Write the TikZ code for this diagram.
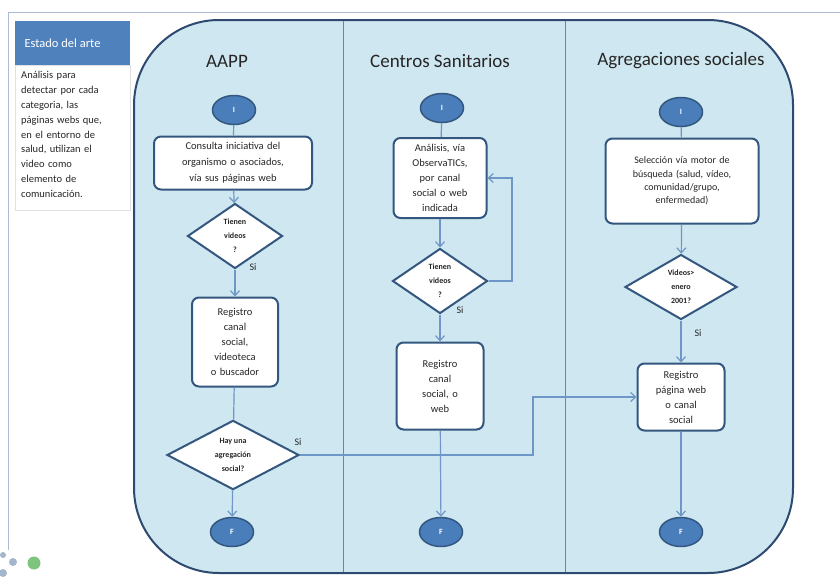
\documentclass[tikz,border=0pt]{standalone}
\usepackage{fontspec}
\setmainfont{Carlito}
\usetikzlibrary{shapes.geometric,arrows.meta}
\definecolor{laneblue}{HTML}{CFE7F0}
\definecolor{borderdk}{HTML}{2E4A70}
\definecolor{nodeborder}{HTML}{34577F}
\definecolor{ellfill}{HTML}{4A7EBB}
\definecolor{edgeblue}{HTML}{6E96C6}
\definecolor{hdrblue}{HTML}{4F81BD}
\definecolor{framegray}{HTML}{A9BCD2}
\definecolor{txt}{HTML}{262626}
\definecolor{dotgray}{HTML}{A4B6CC}
\definecolor{dotgreen}{HTML}{7DC47D}
\begin{document}
\begin{tikzpicture}[x=1pt,y=-1pt,
  procbox/.style={draw=nodeborder, line width=2pt, fill=white, rounded corners=7pt, align=center,
    text=txt, inner xsep=4pt, inner ysep=2pt, font=\fontsize{10.5}{15}\selectfont},
  decision/.style={diamond, draw=nodeborder, line width=2pt, fill=white, align=center, text=txt,
    inner sep=0pt, font=\fontsize{8}{14}\selectfont\bfseries},
  terminal/.style={ellipse, draw=nodeborder, line width=1.5pt, fill=ellfill, minimum width=43pt,
    minimum height=29pt, inner sep=0pt, text=white, font=\fontsize{8}{8}\selectfont\bfseries},
  flow/.style={draw=edgeblue, line width=1.2pt, -{Straight Barb[length=5pt,width=9pt]}},
  plainflow/.style={draw=edgeblue, line width=1.2pt},
  lanetitle/.style={text=txt, font=\fontsize{19}{22}\selectfont},
  silabel/.style={text=txt, font=\fontsize{10}{12}\selectfont}
]
\useasboundingbox (0,0) rectangle (840,576);
\fill[white] (0,0) rectangle (840,576);
% outer frame
\draw[framegray, line width=0.8pt] (8,550) -- (8,12) -- (840,12);
% decorative dots
\fill[dotgray] (3,555) circle (3);
\fill[dotgray] (13,562) circle (4);
\fill[dotgray] (3,573) circle (4);
\fill[dotgreen] (34,563) circle (6.5);
% left info panel
\node[fill=hdrblue, minimum width=115pt, minimum height=44pt, anchor=north west, inner sep=0pt] (hdr) at (15,21) {};
\node[anchor=west, text=white, font=\fontsize{12.5}{14}\selectfont] (hdrtxt) at (21,43) {Estado del arte};
\node[draw=black!12, fill=white, anchor=north west, minimum width=115pt, minimum height=145pt, inner sep=0pt] (info) at (15,65) {};
\node[anchor=north west, text width=108pt, align=left, text=txt, inner sep=0pt,
  font=\fontsize{10.5}{14.9}\selectfont] (infotxt) at (21,71)
  {Análisis para\\detectar por cada\\categoria, las\\páginas webs que,\\en el entorno de\\salud, utilizan el\\video como\\elemento de\\comunicación.};
% swimlane container
\draw[borderdk, fill=laneblue, line width=2pt, rounded corners=85pt] (134,20) rectangle (793,573);
\draw[edgeblue!90!black, line width=1pt] (343,21) -- (343,572);
\draw[edgeblue!90!black, line width=1pt] (565,21) -- (565,572);
% lane titles
\node[lanetitle] (t1) at (227,61) {AAPP};
\node[lanetitle] (t2) at (440,61) {Centros Sanitarios};
\node[lanetitle] (t3) at (681,61) {Agregaciones sociales};
% AAPP lane
\node[terminal] (ai) at (234,110) {I};
\node[procbox, text width=150pt, minimum height=53pt, font=\fontsize{10.5}{16}\selectfont] (abox) at (233,163)
  {Consulta iniciativa del\\organismo o asociados,\\vía sus páginas web};
\node[decision, minimum width=95pt, minimum height=65pt] (ad1) at (235,236) {Tienen\\videos\\?};
\node[procbox, text width=78pt, minimum height=89pt] (areg) at (235,342)
  {Registro\\canal\\social,\\videoteca\\o buscador};
\node[decision, minimum width=132pt, minimum height=65pt] (ad2) at (233,455) {Hay una\\agregación\\social?};
\node[terminal] (af) at (232,532) {F};
% Centros lane
\node[terminal] (ci) at (442,108) {I};
\node[procbox, text width=85pt, minimum height=80pt] (cbox) at (440,178)
  {Análisis, vía\\ObservaTICs,\\por canal\\social o web\\indicada};
\node[decision, minimum width=95pt, minimum height=65pt] (cd) at (440,281) {Tienen\\videos\\?};
\node[procbox, text width=79pt, minimum height=87pt] (creg) at (440,386)
  {Registro\\canal\\social, o\\web};
\node[terminal] (cf) at (441,532) {F};
% Agregaciones lane
\node[terminal] (gi) at (681,112) {I};
\node[procbox, text width=145pt, minimum height=85pt, font=\fontsize{10}{13.4}\selectfont] (gbox) at (682,181)
  {Selección vía motor de\\búsqueda (salud, vídeo,\\comunidad/grupo,\\enfermedad)};
\node[decision, minimum width=112pt, minimum height=65pt] (gd) at (681,287) {Videos>\\enero\\2001?};
\node[procbox, text width=79pt, minimum height=67pt] (greg) at (681,397)
  {Registro\\página web\\o canal\\social};
\node[terminal] (gf) at (681,532) {F};
% connectors AAPP
\draw[plainflow] (ai) -- (abox);
\draw[flow] (abox) -- (ad1);
\draw[flow] (ad1) -- (areg);
\draw[plainflow] (areg) -- (ad2);
\draw[flow] (ad2) -- (af);
\coordinate (jog) at (533,455);
\draw[flow] (ad2.east) -- (jog) |- (greg.west);
% connectors Centros
\draw[plainflow] (ci) -- (cbox);
\draw[flow] (cbox) -- (cd);
\coordinate (loop) at (512,281);
\draw[flow] (cd.east) -- (loop) |- (cbox.east);
\draw[flow] (cd) -- (creg);
\draw[flow] (creg) -- (cf);
% connectors Agregaciones
\draw[plainflow] (gi) -- (gbox);
\draw[flow] (gbox) -- (gd);
\draw[flow] (gd) -- (greg);
\draw[flow] (greg) -- (gf);
% Si labels
\node[silabel] (s1) at (253,267) {Si};
\node[silabel] (s2) at (298,442) {Si};
\node[silabel] (s3) at (460,310) {Si};
\node[silabel] (s4) at (698,333) {Si};
\end{tikzpicture}
\end{document}
